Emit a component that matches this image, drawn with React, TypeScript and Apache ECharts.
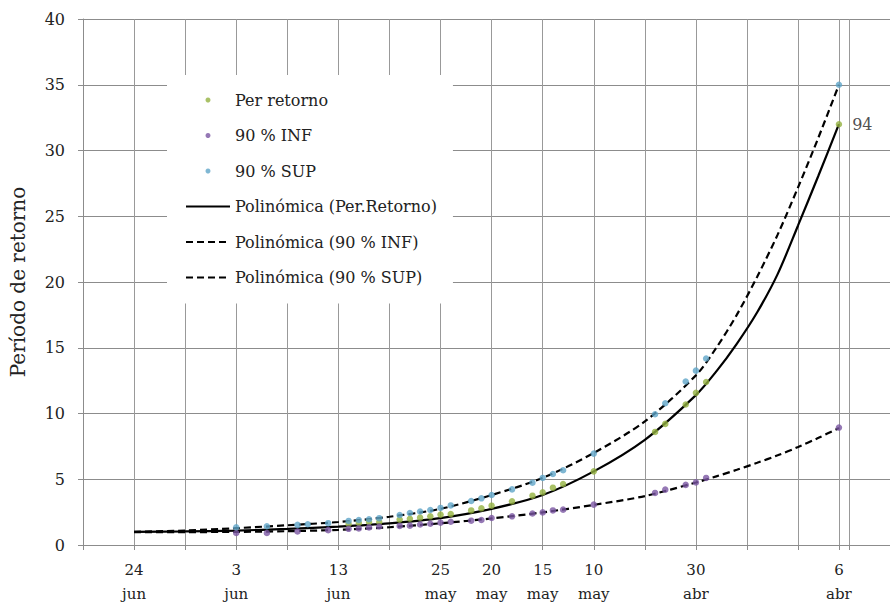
import React, { useEffect, useRef } from 'react';
import * as echarts from 'echarts';

// Tick / label values on the x axis (grid units)
const xGridValues = [0, 5, 10, 15, 20, 25, 30, 35, 40, 45, 50, 55, 60, 65, 70, 74, 75];
const xLabelValues = [5, 15, 25, 35, 40, 45, 50, 60, 74];
const xLabelDays = ['24', '3', '13', '25', '20', '15', '10', '30', '6'];
const xLabelMonths = ['jun', 'jun', 'jun', 'may', 'may', 'may', 'may', 'abr', 'abr'];

// Per retorno
const perX = [26, 27, 28, 29, 31, 32, 33, 34, 35, 36, 38, 39, 40, 42, 44, 45, 46, 47, 50, 56, 57, 59, 60, 61, 74];
const perY = [1.6, 1.67, 1.74, 1.75, 1.93, 2.0, 2.08, 2.18, 2.31, 2.36, 2.63, 2.79, 2.99, 3.32, 3.75, 4.0, 4.36, 4.64, 5.6, 8.6, 9.21, 10.68, 11.57, 12.4, 32.0];
const perLastLabel = '94';

// 90 % INF
const infX = [15, 18, 21, 24, 26, 27, 28, 29, 31, 32, 33, 34, 35, 36, 38, 39, 40, 42, 44, 45, 46, 47, 50, 56, 57, 59, 60, 61, 74];
const infY = [0.91, 0.91, 1.03, 1.13, 1.23, 1.26, 1.34, 1.41, 1.45, 1.47, 1.56, 1.62, 1.7, 1.77, 1.85, 1.9, 2.05, 2.18, 2.4, 2.48, 2.63, 2.69, 3.07, 3.96, 4.21, 4.57, 4.76, 5.1, 8.93];

// 90 % SUP
const supX = [15, 18, 21, 22, 24, 26, 27, 28, 29, 31, 32, 33, 34, 35, 36, 38, 39, 40, 42, 44, 45, 46, 47, 50, 56, 57, 59, 60, 61, 74];
const supY = [1.35, 1.43, 1.53, 1.58, 1.66, 1.83, 1.9, 1.96, 2.04, 2.28, 2.43, 2.55, 2.66, 2.82, 3.01, 3.35, 3.55, 3.8, 4.23, 4.74, 5.1, 5.4, 5.68, 6.95, 9.94, 10.78, 12.43, 13.26, 14.18, 35.0];

// Trend lines
const trendX = [5, 10, 15, 20, 25, 30, 35, 40, 45, 50, 55, 60, 62, 64, 66, 68, 70, 72, 74];
const trendPerY = [1.0, 1.03, 1.1, 1.22, 1.4, 1.65, 2.05, 2.75, 3.8, 5.6, 8.0, 11.4, 13.2, 15.3, 17.7, 20.6, 24.3, 28.1, 32.0];
const trendInfY = [0.97, 0.98, 1.0, 1.05, 1.15, 1.35, 1.65, 2.02, 2.48, 3.05, 3.72, 4.75, 5.22, 5.72, 6.25, 6.82, 7.45, 8.15, 8.9];
const trendSupY = [1.0, 1.1, 1.28, 1.5, 1.75, 2.15, 2.75, 3.8, 5.1, 7.0, 9.4, 12.9, 15.0, 17.5, 20.4, 23.6, 27.2, 31.0, 35.0];

const names = [
  'Per retorno',
  '90 % INF',
  '90 % SUP',
  'Polinómica (Per.Retorno)',
  'Polinómica (90 % INF)',
  'Polinómica (90 % SUP)',
];

const FONT = 'DejaVu Serif';
const GREEN = '#94b240';
const PURPLE = '#7a56a2';
const BLUE = '#5fa5c8';

export default function App() {
  const ref = useRef<HTMLDivElement>(null);
  useEffect(() => {
    if (!ref.current) return;
    const chart = echarts.init(ref.current, null, { renderer: 'svg' });
    const pts = (xs: number[], ys: number[]) => xs.map((x, i) => [x, ys[i]]);
    const perData: any[] = pts(perX, perY).map((p, i) =>
      i === perX.length - 1
        ? { value: p, label: { show: true, formatter: perLastLabel } }
        : p
    );
    const dashed = { color: '#000', width: 2.2, type: [7, 4] };
    const hiddenDot = { opacity: 0 };
    chart.setOption({
      animation: false,
      backgroundColor: '#fff',
      grid: { left: 83, right: 0, top: 19, bottom: 63 },
      xAxis: {
        type: 'value',
        min: 0,
        max: 79,
        interval: 5,
        axisLine: { show: true, lineStyle: { color: '#8c8c8c', width: 1 } },
        axisTick: { show: true, length: 5, customValues: xGridValues, lineStyle: { color: '#8c8c8c' } },
        axisLabel: {
          customValues: xLabelValues,
          formatter: (v: number) => {
            const i = xLabelValues.indexOf(v);
            return i >= 0 ? `${xLabelDays[i]}\n${xLabelMonths[i]}` : '';
          },
          fontFamily: FONT,
          fontSize: 15,
          color: '#222',
          lineHeight: 24,
          margin: 13,
        },
        splitLine: { show: true, lineStyle: { color: '#999999', width: 1 } },
      },
      yAxis: {
        type: 'value',
        min: 0,
        max: 40,
        interval: 5,
        name: 'Período de retorno',
        nameLocation: 'middle',
        nameGap: 55,
        nameTextStyle: { fontFamily: FONT, fontSize: 20, color: '#222' },
        axisLine: { show: true, lineStyle: { color: '#8c8c8c', width: 1 } },
        axisTick: { show: true, length: 5, lineStyle: { color: '#8c8c8c' } },
        axisLabel: { fontFamily: FONT, fontSize: 16, color: '#222', margin: 18 },
        splitLine: { show: true, lineStyle: { color: '#8c8c8c', width: 1 } },
      },
      legend: {
        left: 167,
        top: 75,
        orient: 'vertical',
        backgroundColor: '#fff',
        padding: [16, 16, 17, 18],
        itemWidth: 44,
        itemHeight: 5,
        itemGap: 17.5,
        selectedMode: false,
        textStyle: { fontFamily: FONT, fontSize: 16, color: '#222', lineHeight: 18 },
        data: [
          { name: names[0], icon: 'circle' },
          { name: names[1], icon: 'circle' },
          { name: names[2], icon: 'circle' },
          { name: names[3], itemStyle: hiddenDot },
          { name: names[4], itemStyle: hiddenDot },
          { name: names[5], itemStyle: hiddenDot },
        ],
      },
      series: [
        {
          name: names[3], type: 'line', data: pts(trendX, trendPerY), smooth: 0.3, z: 2,
          symbol: 'none', lineStyle: { color: '#000', width: 2.2, type: 'solid' }, itemStyle: { color: '#000' },
        },
        {
          name: names[4], type: 'line', data: pts(trendX, trendInfY), smooth: 0.3, z: 2,
          symbol: 'none', lineStyle: dashed, itemStyle: { color: '#000' },
        },
        {
          name: names[5], type: 'line', data: pts(trendX, trendSupY), smooth: 0.3, z: 2,
          symbol: 'none', lineStyle: dashed, itemStyle: { color: '#000' },
        },
        {
          name: names[0], type: 'scatter', data: perData, symbolSize: 6.5, z: 5, itemStyle: { color: GREEN },
          label: { position: 'right', distance: 10, fontFamily: FONT, fontSize: 16, color: '#222' },
        },
        { name: names[1], type: 'scatter', data: pts(infX, infY), symbolSize: 6.5, z: 5, itemStyle: { color: PURPLE } },
        { name: names[2], type: 'scatter', data: pts(supX, supY), symbolSize: 6.5, z: 5, itemStyle: { color: BLUE } },
      ],
    });
    return () => chart.dispose();
  }, []);
  return (
    <div
      ref={ref}
      style={{ position: 'fixed', left: 0, top: 0, width: 890, height: 608, background: '#fff' }}
    />
  );
}
